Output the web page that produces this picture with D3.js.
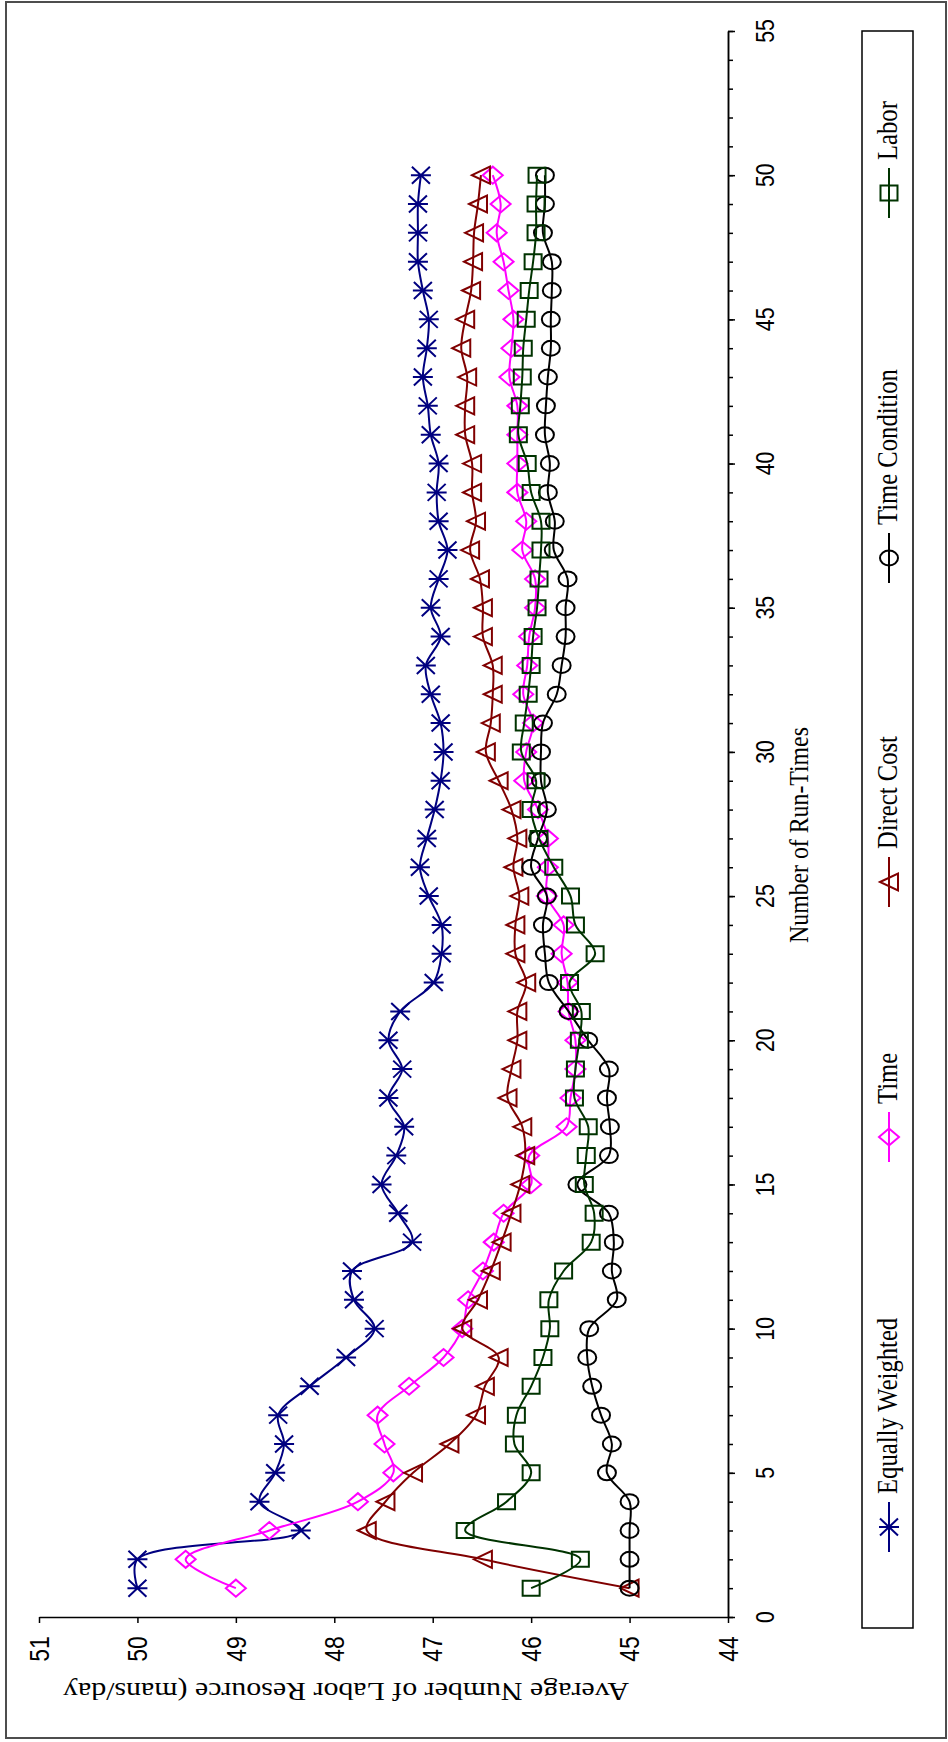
<!DOCTYPE html>
<html>
<head>
<meta charset="utf-8">
<script src="https://cdn.jsdelivr.net/npm/d3@7/dist/d3.min.js"></script>
<style>
  html, body { margin: 0; padding: 0; background: #ffffff; }
  svg { display: block; }
</style>
</head>
<body>
<script>
// ---------------- DATA ----------------
const runs = [1,2,3,4,5,6,7,8,9,10,11,12,13,14,15,16,17,18,19,20,21,22,23,24,25,
              26,27,28,29,30,31,32,33,34,35,36,37,38,39,40,41,42,43,44,45,46,47,48,49,50];

const equallyWeighted = [50.00,50.00,48.34,48.76,48.60,48.51,48.57,48.25,47.88,47.59,
                         47.80,47.82,47.21,47.35,47.52,47.37,47.29,47.45,47.31,47.45,
                         47.33,46.99,46.91,46.91,47.04,47.13,47.06,46.98,46.92,46.89,
                         46.92,47.02,47.07,46.92,47.02,46.94,46.85,46.94,46.96,46.94,
                         47.02,47.05,47.10,47.06,47.04,47.10,47.15,47.15,47.15,47.12];

const timeSeries = [49.00,49.51,48.66,47.76,47.40,47.49,47.56,47.24,46.89,46.70,
                    46.64,46.49,46.38,46.28,46.00,46.02,45.64,45.60,45.55,45.55,
                    45.62,45.63,45.69,45.67,45.84,45.83,45.83,45.93,46.07,46.05,
                    45.98,46.08,46.04,46.02,45.96,45.96,46.09,46.05,46.14,46.14,
                    46.14,46.14,46.22,46.20,46.18,46.23,46.28,46.35,46.31,46.39];

const directCost = [45.00,46.49,47.67,47.48,47.20,46.83,46.56,46.47,46.33,46.70,
                    46.54,46.41,46.30,46.20,46.11,46.06,46.09,46.24,46.20,46.14,
                    46.14,46.05,46.16,46.16,46.12,46.18,46.14,46.20,46.33,46.46,
                    46.41,46.39,46.39,46.49,46.49,46.52,46.62,46.56,46.60,46.60,
                    46.67,46.67,46.65,46.71,46.67,46.61,46.59,46.58,46.54,46.51];

const timeCondition = [45.00,45.00,45.00,45.00,45.23,45.18,45.29,45.38,45.43,45.41,
                       45.13,45.18,45.16,45.21,45.53,45.21,45.20,45.23,45.21,45.42,
                       45.62,45.82,45.86,45.88,45.84,46.00,45.93,45.84,45.90,45.90,
                       45.88,45.74,45.69,45.65,45.65,45.63,45.77,45.76,45.83,45.81,
                       45.86,45.85,45.83,45.80,45.80,45.79,45.79,45.88,45.86,45.86];

const labor = [46.00,45.50,46.67,46.25,46.00,46.17,46.15,46.00,45.88,45.81,
               45.82,45.67,45.39,45.36,45.46,45.44,45.42,45.56,45.55,45.51,
               45.49,45.61,45.35,45.55,45.60,45.77,45.92,46.00,45.95,46.10,
               46.07,46.03,46.00,45.98,45.94,45.92,45.90,45.90,46.00,46.04,
               46.13,46.11,46.09,46.08,46.05,46.02,45.98,45.95,45.95,45.94];

const seriesNames  = ["Equally Weighted", "Time", "Direct Cost", "Time Condition", "Labor"];
const valueTicks   = [44, 45, 46, 47, 48, 49, 50, 51];
const runTicks     = [0, 5, 10, 15, 20, 25, 30, 35, 40, 45, 50, 55];
const runMinorTicks = [0,1,2,3,4,5,6,7,8,9,10,11,12,13,14,15,16,17,18,19,20,21,22,23,24,25,26,27,
                       28,29,30,31,32,33,34,35,36,37,38,39,40,41,42,43,44,45,46,47,48,49,50,51,52,53,54,55];
const xTitle = "Number of Run-Times";
const yTitle = "Average Number of Labor Resource (mans/day";

// ---------------- STYLE / LAYOUT ----------------
const W = 948, H = 1742;
const styles = [
  { color: "#000080", marker: "asterisk" },
  { color: "#FF00FF", marker: "diamond" },
  { color: "#800000", marker: "triangle" },
  { color: "#000000", marker: "circle" },
  { color: "#003300", marker: "square" }
];
const allValues = [equallyWeighted, timeSeries, directCost, timeCondition, labor];
const legendCenters = [1527, 1137, 882, 558, 193];
const SQ = 0.85; // glyph compression along screen-vertical

const svg = d3.select("body").append("svg")
  .attr("width", W).attr("height", H)
  .attr("viewBox", `0 0 ${W} ${H}`);

svg.append("rect").attr("width", W).attr("height", H).attr("fill", "#fff");

// frame
svg.append("rect")
  .attr("x", 6).attr("y", 2).attr("width", 940).attr("height", 1736)
  .attr("fill", "none").attr("stroke", "#4d4d4d").attr("stroke-width", 2);

// scales: value -> screen X, run -> screen Y (chart rotated)
const xV = d3.scaleLinear().domain([44, 51]).range([728, 39]);
const yR = d3.scaleLinear().domain([0, 55]).range([1617, 31]);

// value axis (horizontal on screen)
const gV = svg.append("g").attr("transform", "translate(0,1617)")
  .call(d3.axisBottom(xV).tickValues(valueTicks).tickSize(6).tickSizeOuter(0).tickFormat(""));
// run axis (vertical on screen)
const gRm = svg.append("g").attr("transform", "translate(728,0)")
  .call(d3.axisRight(yR).tickValues(runMinorTicks).tickSize(5).tickSizeOuter(0).tickFormat(""));
const gR = svg.append("g").attr("transform", "translate(728,0)")
  .call(d3.axisRight(yR).tickValues(runTicks).tickSize(7).tickSizeOuter(0).tickFormat(""));
[gV, gRm, gR].forEach(g => {
  g.selectAll("path, line").attr("stroke", "#000").attr("stroke-width", 1.5);
});

// tick labels
svg.append("g").selectAll("text").data(valueTicks).join("text")
  .attr("transform", d => `translate(${xV(d) + 9.7},1649) rotate(-90) scale(${SQ},1)`)
  .attr("text-anchor", "middle")
  .attr("font-family", "'Liberation Sans', Arial, sans-serif")
  .attr("font-size", 27).attr("fill", "#000")
  .text(d => d);

svg.append("g").selectAll("text").data(runTicks).join("text")
  .attr("transform", d => `translate(774,${yR(d)}) rotate(-90) scale(${SQ},1)`)
  .attr("text-anchor", "middle")
  .attr("font-family", "'Liberation Sans', Arial, sans-serif")
  .attr("font-size", 25).attr("fill", "#000")
  .text(d => d);

// axis titles
svg.append("text")
  .attr("transform", `translate(808,835) rotate(-90) scale(${SQ},1)`)
  .attr("text-anchor", "middle")
  .attr("font-family", "'Liberation Serif', 'Times New Roman', serif")
  .attr("font-size", 28).attr("fill", "#000")
  .text(xTitle);

svg.append("text")
  .attr("transform", `translate(346,1683) rotate(180) scale(1,${SQ})`)
  .attr("text-anchor", "middle")
  .attr("font-family", "'Liberation Serif', 'Times New Roman', serif")
  .attr("font-size", 29).attr("fill", "#000")
  .attr("textLength", 566).attr("lengthAdjust", "spacingAndGlyphs")
  .text(yTitle);

// marker drawing
function markerPath(type, cx, cy) {
  switch (type) {
    case "asterisk":
      return `M${cx-10},${cy}H${cx+10}M${cx-9},${cy-8.5}L${cx+9},${cy+8.5}M${cx-9},${cy+8.5}L${cx+9},${cy-8.5}`;
    case "diamond":
      return `M${cx-10},${cy}L${cx},${cy-8.5}L${cx+10},${cy}L${cx},${cy+8.5}Z`;
    case "triangle":
      return `M${cx-9},${cy}L${cx+9},${cy-8.5}L${cx+9},${cy+8.5}Z`;
    case "square":
      return `M${cx-8.5},${cy-7.5}h17v15h-17Z`;
    case "circle":
      return `M${cx-9},${cy}a9,7.5 0 1,0 18,0a9,7.5 0 1,0 -18,0Z`;
  }
}

const line = d3.line()
  .x(d => xV(d.v))
  .y(d => yR(d.r))
  .curve(d3.curveCatmullRom.alpha(0.5));

const plot = svg.append("g");
allValues.forEach((vals, i) => {
  const pts = runs.map((r, j) => ({ r: r, v: vals[j] }));
  const st = styles[i];
  const g = plot.append("g");
  g.append("path").datum(pts)
    .attr("d", line)
    .attr("fill", "none").attr("stroke", st.color).attr("stroke-width", 2);
  g.selectAll("path.m").data(pts).join("path").attr("class", "m")
    .attr("d", d => markerPath(st.marker, xV(d.v), yR(d.r)))
    .attr("fill", "none").attr("stroke", st.color).attr("stroke-width", 2);
});

// legend
svg.append("rect")
  .attr("x", 862).attr("y", 31).attr("width", 51).attr("height", 1597)
  .attr("fill", "none").attr("stroke", "#000").attr("stroke-width", 1.5);

const lg = svg.append("g");
seriesNames.forEach((name, i) => {
  const c = legendCenters[i];
  const st = styles[i];
  lg.append("line").attr("x1", 889).attr("x2", 889).attr("y1", c - 25).attr("y2", c + 25)
    .attr("stroke", st.color).attr("stroke-width", 2);
  lg.append("path").attr("d", markerPath(st.marker, 889, c))
    .attr("fill", "none").attr("stroke", st.color).attr("stroke-width", 2);
  lg.append("text")
    .attr("transform", `translate(897,${c - 33}) rotate(-90) scale(${SQ},1)`)
    .attr("text-anchor", "start")
    .attr("font-family", "'Liberation Serif', 'Times New Roman', serif")
    .attr("font-size", 29).attr("fill", "#000")
    .text(name);
});
</script>
</body>
</html>
